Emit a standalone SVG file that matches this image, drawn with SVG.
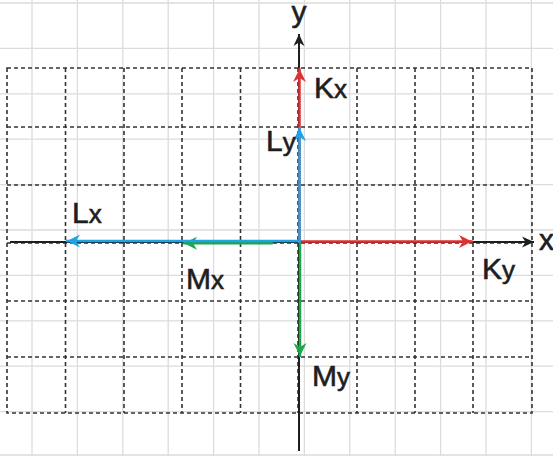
<svg xmlns="http://www.w3.org/2000/svg" width="553" height="456" viewBox="0 0 553 456">
  <style>
    .bg { stroke: #dcdcdc; stroke-width: 1.3; fill: none; }
    .dot { stroke: #333333; stroke-width: 1.6; stroke-dasharray: 4 3; fill: none; }
    .axis { stroke: #1e1e1e; stroke-width: 2; fill: none; }
    .vec { stroke-width: 2.5; fill: none; stroke-linecap: round; }
    .red { stroke: #e03131; }
    .blue { stroke: #1ea3e6; }
    .green { stroke: #1ea64a; }
    .lbl { font-family: "Liberation Sans", "Open Sans", sans-serif; font-size: 30px; fill: #1e1e1e; stroke: #1e1e1e; stroke-width: 0.6; }
    .sub { font-size: 26px; }
  </style>
  <defs>
    <marker id="hk" markerUnits="userSpaceOnUse" viewBox="-14 -7 15 14" refX="0" refY="0" markerWidth="15" markerHeight="14" orient="auto"><path d="M0,0 L-12,-5.5 L-8.5,0 L-12,5.5 Z" fill="#1e1e1e"/></marker>
    <marker id="hr" markerUnits="userSpaceOnUse" viewBox="-14 -7 15 14" refX="0" refY="0" markerWidth="15" markerHeight="14" orient="auto"><path d="M0,0 L-13,-6.5 L-9,0 L-13,6.5 Z" fill="#e03131"/></marker>
    <marker id="hb" markerUnits="userSpaceOnUse" viewBox="-14 -7 15 14" refX="0" refY="0" markerWidth="15" markerHeight="14" orient="auto"><path d="M0,0 L-13,-6.5 L-9,0 L-13,6.5 Z" fill="#1ea3e6"/></marker>
    <marker id="hg" markerUnits="userSpaceOnUse" viewBox="-14 -7 15 14" refX="0" refY="0" markerWidth="15" markerHeight="14" orient="auto"><path d="M0,0 L-13,-6.5 L-9,0 L-13,6.5 Z" fill="#1ea64a"/></marker>
  </defs>
  <rect width="553" height="456" fill="#ffffff"/>
  <g id="background-grid" class="bg">
    <path d="M32,0V456 M77.4,0V456 M122.8,0V456 M168.2,0V456 M213.6,0V456 M259,0V456 M304.4,0V456 M349.8,0V456 M395.2,0V456 M440.6,0V456 M486,0V456 M531.4,0V456"/>
    <path d="M0,3H553 M0,48.4H553 M0,93.8H553 M0,139.2H553 M0,184.6H553 M0,230H553 M0,275.4H553 M0,320.8H553 M0,366.2H553 M0,411.6H553 M0,455H553"/>
  </g>
  <g id="dotted-grid">
    <rect x="7" y="68" width="525" height="345" fill="#ffffff" class="dot"/>
    <path class="dot" d="M65.5,68V413 M124,68V413 M182,68V413 M240.5,68V413 M298,68V413 M357,68V413 M415,68V413 M473,68V413"/>
    <path class="dot" d="M7,127H532 M7,185H532 M7,243H532 M7,301H532 M7,357H532"/>
  </g>
  <g id="connectors">
    <line id="x-axis" class="axis" x1="10" y1="242" x2="534" y2="242" marker-end="url(#hk)"/>
    <line id="y-axis" class="axis" x1="299" y1="451" x2="299" y2="34" marker-end="url(#hk)"/>
    <line id="Kx-vec" class="vec red" x1="299.5" y1="242" x2="299.5" y2="69" marker-end="url(#hr)"/>
    <line id="Ky-vec" class="vec red" x1="300" y1="241.5" x2="472" y2="241.5" marker-end="url(#hr)"/>
    <line id="My-vec" class="vec green" x1="300" y1="243" x2="300" y2="356" marker-end="url(#hg)"/>
    <line id="Mx-vec" class="vec green" x1="272" y1="243.3" x2="184" y2="243.3" marker-end="url(#hg)"/>
    <line id="Ly-vec" class="vec blue" x1="299.5" y1="242" x2="299.5" y2="128" marker-end="url(#hb)"/>
    <line id="Lx-vec" class="vec blue" x1="299" y1="241" x2="67" y2="241" marker-end="url(#hb)"/>
  </g>
  <g id="axis-labels">
    <text id="y-label" class="lbl" x="299" y="22" text-anchor="middle" font-size="28">y</text>
    <text id="x-label" class="lbl" x="539" y="250" font-size="28">x</text>
  </g>
  <g id="Kx"><text class="lbl" x="314" y="98">K<tspan class="sub">x</tspan></text></g>
  <g id="Ly"><text class="lbl" x="266" y="151">L<tspan class="sub">y</tspan></text></g>
  <g id="Lx"><text class="lbl" x="72" y="223">L<tspan class="sub">x</tspan></text></g>
  <g id="Mx"><text class="lbl" x="186" y="289">M<tspan class="sub">x</tspan></text></g>
  <g id="Ky"><text class="lbl" x="482" y="279">K<tspan class="sub">y</tspan></text></g>
  <g id="My"><text class="lbl" x="312" y="386">M<tspan class="sub">y</tspan></text></g>
</svg>
